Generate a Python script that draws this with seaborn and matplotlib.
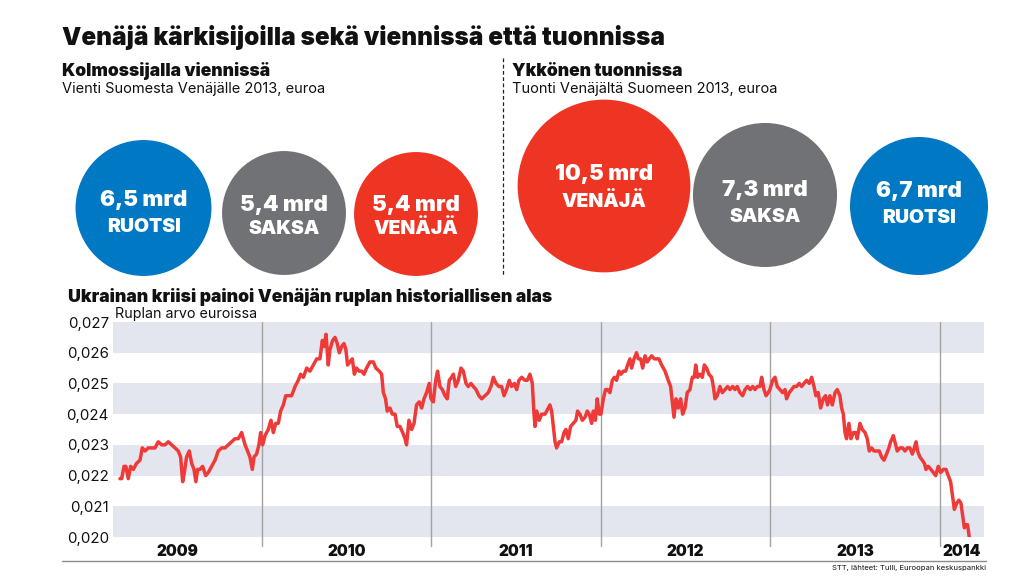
import numpy as np
import pandas as pd
import matplotlib
matplotlib.use("Agg")
import matplotlib.pyplot as plt
from matplotlib.patches import Circle
import seaborn as sns

# ── Data ────────────────────────────────────────────────────────────────────
export_values = [6.5, 5.4, 5.4]                 # mrd euroa, vienti Venäjälle 2013
export_labels = ["RUOTSI", "SAKSA", "VENÄJÄ"]
import_values = [10.5, 7.3, 6.7]                # mrd euroa, tuonti 2013
import_labels = ["VENÄJÄ", "SAKSA", "RUOTSI"]

year_labels = [2009, 2010, 2011, 2012, 2013, 2014]
y_ticks = [0.020, 0.021, 0.022, 0.023, 0.024, 0.025, 0.026, 0.027]

# ruplan arvo euroissa (luettu kuvasta), aika desimaalivuosina
rate_time = [
    2009.162, 2009.172, 2009.186, 2009.197, 2009.211, 2009.225, 2009.241, 2009.260, 2009.280, 2009.294,
    2009.310, 2009.329, 2009.349, 2009.369, 2009.388, 2009.408, 2009.428, 2009.447, 2009.467, 2009.487,
    2009.506, 2009.520, 2009.532, 2009.542, 2009.555, 2009.571, 2009.585, 2009.599, 2009.610, 2009.620,
    2009.634, 2009.650, 2009.668, 2009.683, 2009.703, 2009.723, 2009.742, 2009.762, 2009.782, 2009.801,
    2009.821, 2009.841, 2009.860, 2009.880, 2009.900, 2009.915, 2009.929, 2009.943, 2009.953, 2009.968,
    2009.982, 2009.992, 2010.004, 2010.018, 2010.037, 2010.053, 2010.067, 2010.081, 2010.096, 2010.110,
    2010.126, 2010.140, 2010.155, 2010.175, 2010.195, 2010.214, 2010.228, 2010.244, 2010.264, 2010.283,
    2010.303, 2010.323, 2010.342, 2010.356, 2010.366, 2010.378, 2010.391,
    2010.401, 2010.417, 2010.431, 2010.444, 2010.456, 2010.470, 2010.484, 2010.495, 2010.505, 2010.519,
    2010.533, 2010.545, 2010.558, 2010.574, 2010.588, 2010.602, 2010.617, 2010.637, 2010.657, 2010.672,
    2010.692, 2010.706, 2010.716, 2010.729, 2010.739, 2010.755, 2010.769, 2010.785, 2010.798, 2010.814,
    2010.830, 2010.844, 2010.853, 2010.867, 2010.883, 2010.897, 2010.912, 2010.928, 2010.942, 2010.956,
    2010.971, 2010.987, 2010.997, 2011.011, 2011.025, 2011.036, 2011.050, 2011.064, 2011.080, 2011.093,
    2011.105, 2011.119, 2011.129, 2011.143, 2011.158, 2011.174, 2011.188, 2011.204, 2011.217, 2011.233,
    2011.247, 2011.263, 2011.280, 2011.296, 2011.316, 2011.335, 2011.351, 2011.365, 2011.381, 2011.398,
    2011.414, 2011.428, 2011.443, 2011.459, 2011.473, 2011.489, 2011.503, 2011.516, 2011.532, 2011.552,
    2011.565, 2011.581, 2011.595, 2011.605, 2011.611, 2011.621, 2011.636, 2011.650, 2011.670, 2011.689,
    2011.699, 2011.709, 2011.719, 2011.729, 2011.738, 2011.754, 2011.768, 2011.782, 2011.793, 2011.807,
    2011.821, 2011.837, 2011.852, 2011.862, 2011.876, 2011.890, 2011.906, 2011.919, 2011.931, 2011.945,
    2011.955, 2011.967, 2011.978, 2011.990, 2012.000, 2012.014, 2012.027, 2012.039, 2012.053, 2012.067,
    2012.079, 2012.092, 2012.106, 2012.118, 2012.132, 2012.146, 2012.157, 2012.171, 2012.181, 2012.195,
    2012.210, 2012.220, 2012.234, 2012.246, 2012.260, 2012.273, 2012.285, 2012.299, 2012.315, 2012.328,
    2012.342, 2012.358, 2012.378, 2012.397, 2012.411, 2012.421, 2012.431, 2012.443, 2012.456, 2012.470,
    2012.482, 2012.496, 2012.509, 2012.525, 2012.539, 2012.551, 2012.559, 2012.570, 2012.584, 2012.598,
    2012.610, 2012.623, 2012.637, 2012.653, 2012.663, 2012.673, 2012.686, 2012.702, 2012.716, 2012.732,
    2012.747, 2012.761, 2012.777, 2012.791, 2012.804, 2012.820, 2012.836, 2012.850, 2012.865, 2012.881,
    2012.895, 2012.909, 2012.923, 2012.938, 2012.948, 2012.962, 2012.974, 2012.987,
    2012.997, 2013.013, 2013.027, 2013.040, 2013.056, 2013.072, 2013.086, 2013.095, 2013.111, 2013.125,
    2013.139, 2013.154, 2013.170, 2013.184, 2013.198, 2013.213, 2013.229, 2013.243, 2013.257, 2013.268,
    2013.282, 2013.296, 2013.312, 2013.325, 2013.337, 2013.351, 2013.365, 2013.381, 2013.394, 2013.410,
    2013.420, 2013.430, 2013.440, 2013.449, 2013.463, 2013.475, 2013.489, 2013.503, 2013.512, 2013.528,
    2013.542, 2013.558, 2013.571, 2013.583, 2013.597, 2013.611, 2013.626, 2013.642, 2013.656, 2013.670,
    2013.685, 2013.699, 2013.709, 2013.725, 2013.739, 2013.748, 2013.764, 2013.780, 2013.794, 2013.807,
    2013.823, 2013.837, 2013.849, 2013.859, 2013.868, 2013.882, 2013.896, 2013.908, 2013.918, 2013.931,
    2013.947, 2013.961, 2013.975, 2013.990, 2014.004, 2014.020, 2014.036, 2014.049, 2014.063, 2014.073,
    2014.085, 2014.099, 2014.112, 2014.124, 2014.134, 2014.144, 2014.154, 2014.163, 2014.173,
]
rate_value = [
    0.0219, 0.0219, 0.0223, 0.0223, 0.0219, 0.0223, 0.0222, 0.0224, 0.0225, 0.0229,
    0.0228, 0.0229, 0.0229, 0.0229, 0.0231, 0.0230, 0.0230, 0.0231, 0.0230, 0.0229,
    0.0228, 0.0226, 0.0218, 0.0221, 0.0226, 0.0228, 0.0224, 0.0222, 0.0218, 0.0222,
    0.0222, 0.0223, 0.0220, 0.0221, 0.0223, 0.0225, 0.0228, 0.0229, 0.0229, 0.0230,
    0.0231, 0.0232, 0.0232, 0.0234, 0.0230, 0.0228, 0.0226, 0.0222, 0.0226, 0.0227,
    0.0230, 0.0234, 0.0230, 0.0233, 0.0235, 0.0238, 0.0234, 0.0237, 0.0237, 0.0241,
    0.0243, 0.0246, 0.0246, 0.0246, 0.0249, 0.0251, 0.0253, 0.0252, 0.0255, 0.0254,
    0.0256, 0.0258, 0.0258, 0.0264, 0.0262, 0.0266, 0.0256,
    0.0261, 0.0264, 0.0265, 0.0263, 0.0260, 0.0262, 0.0263, 0.0261, 0.0256, 0.0257,
    0.0258, 0.0253, 0.0255, 0.0254, 0.0254, 0.0253, 0.0255, 0.0257, 0.0257, 0.0255,
    0.0254, 0.0253, 0.0247, 0.0245, 0.0241, 0.0242, 0.0240, 0.0240, 0.0236, 0.0236,
    0.0234, 0.0232, 0.0230, 0.0238, 0.0235, 0.0237, 0.0243, 0.0244, 0.0242, 0.0245,
    0.0247, 0.0250, 0.0245, 0.0244, 0.0251, 0.0254, 0.0249, 0.0248, 0.0246, 0.0245,
    0.0251, 0.0252, 0.0253, 0.0249, 0.0251, 0.0255, 0.0254, 0.0250, 0.0249, 0.0250,
    0.0249, 0.0248, 0.0246, 0.0245, 0.0246, 0.0247, 0.0249, 0.0252, 0.0250, 0.0249,
    0.0249, 0.0246, 0.0248, 0.0251, 0.0249, 0.0250, 0.0248, 0.0251, 0.0252, 0.0251,
    0.0251, 0.0253, 0.0250, 0.0240, 0.0236, 0.0241, 0.0238, 0.0240, 0.0240, 0.0242,
    0.0243, 0.0241, 0.0236, 0.0231, 0.0229, 0.0231, 0.0231, 0.0234, 0.0235, 0.0232,
    0.0236, 0.0237, 0.0238, 0.0241, 0.0240, 0.0238, 0.0239, 0.0241, 0.0240, 0.0237,
    0.0241, 0.0238, 0.0245, 0.0240, 0.0240, 0.0245, 0.0248, 0.0248, 0.0247, 0.0251,
    0.0252, 0.0251, 0.0254, 0.0253, 0.0254, 0.0254, 0.0256, 0.0258, 0.0255, 0.0258,
    0.0260, 0.0258, 0.0258, 0.0255, 0.0259, 0.0257, 0.0258, 0.0259, 0.0258, 0.0258,
    0.0258, 0.0256, 0.0254, 0.0251, 0.0249, 0.0244, 0.0239, 0.0245, 0.0242, 0.0245,
    0.0240, 0.0242, 0.0247, 0.0248, 0.0252, 0.0252, 0.0256, 0.0252, 0.0253, 0.0252,
    0.0256, 0.0255, 0.0253, 0.0252, 0.0249, 0.0245, 0.0246, 0.0249, 0.0247, 0.0248,
    0.0249, 0.0248, 0.0249, 0.0248, 0.0249, 0.0247, 0.0246, 0.0248, 0.0249, 0.0248,
    0.0249, 0.0248, 0.0249, 0.0249, 0.0252, 0.0248, 0.0246, 0.0247,
    0.0248, 0.0251, 0.0252, 0.0249, 0.0248, 0.0247, 0.0248, 0.0245, 0.0247, 0.0248,
    0.0249, 0.0249, 0.0250, 0.0249, 0.0250, 0.0251, 0.0250, 0.0252, 0.0249, 0.0246,
    0.0247, 0.0242, 0.0245, 0.0246, 0.0243, 0.0246, 0.0243, 0.0247, 0.0248, 0.0246,
    0.0242, 0.0240, 0.0234, 0.0232, 0.0237, 0.0232, 0.0234, 0.0234, 0.0232, 0.0237,
    0.0235, 0.0234, 0.0232, 0.0228, 0.0229, 0.0228, 0.0228, 0.0228, 0.0226, 0.0225,
    0.0227, 0.0229, 0.0231, 0.0233, 0.0230, 0.0228, 0.0229, 0.0229, 0.0228, 0.0229,
    0.0229, 0.0227, 0.0229, 0.0231, 0.0228, 0.0226, 0.0225, 0.0224, 0.0222, 0.0223,
    0.0222, 0.0221, 0.0220, 0.0223, 0.0221, 0.0222, 0.0222, 0.0220, 0.0218, 0.0214,
    0.0209, 0.0211, 0.0212, 0.0211, 0.0207, 0.0203, 0.0204, 0.0204, 0.0200,
]

# ── Style ───────────────────────────────────────────────────────────────────
COLOURS = {"RUOTSI": "#0078C4", "SAKSA": "#717275", "VENÄJÄ": "#EE3524"}
LINE_RED = "#EE3A38"
BAND = "#E3E6EE"
INK = "#111111"

sns.set_theme(style="white")
plt.rcParams["font.family"] = ["Inter", "Lato", "DejaVu Sans"]

fig = plt.figure(figsize=(10.24, 5.76), dpi=100)
fig.patch.set_facecolor("white")

# overlay in pixel coordinates for headings and bubbles
ov = fig.add_axes([0, 0, 1, 1])
ov.set_xlim(0, 1024)
ov.set_ylim(576, 0)
ov.axis("off")

ov.text(62, 37, "Venäjä kärkisijoilla sekä viennissä että tuonnissa",
        fontsize=17.5, fontweight="black", color=INK, va="center")
ov.text(62, 71, "Kolmossijalla viennissä", fontsize=12.6, fontweight="black",
        color=INK, va="center")
ov.text(62, 89, "Vienti Suomesta Venäjälle 2013, euroa", fontsize=10.5,
        color=INK, va="center")
ov.text(512, 71, "Ykkönen tuonnissa", fontsize=12.6, fontweight="black",
        color=INK, va="center")
ov.text(512, 89, "Tuonti Venäjältä Suomeen 2013, euroa", fontsize=10.5,
        color=INK, va="center")
ov.plot([503, 503], [58, 276], color="#222222", lw=0.9, ls=(0, (3, 2)))

# bubbles: area proportional to value
R_SCALE = 69 / np.sqrt(6.7)
bubble_groups = [
    (export_values, export_labels, [143.5, 284, 416], [208, 213, 214],
     [200, 205, 205], [227, 229, 229]),
    (import_values, import_labels, [604, 765, 919], [186, 195, 206],
     [174, 190, 191], [202, 217, 218]),
]
for values, labels, cx, cy, ty_val, ty_lab in bubble_groups:
    for v, lab, x, y, tv, tl in zip(values, labels, cx, cy, ty_val, ty_lab):
        ov.add_patch(Circle((x, y), R_SCALE * np.sqrt(v), color=COLOURS[lab], lw=0))
        ov.text(x, tv, f"{v:.1f} mrd".replace(".", ","), color="white",
                fontsize=16, fontweight="black", ha="center", va="center")
        ov.text(x, tl, lab, color="white", fontsize=14, fontweight="black",
                ha="center", va="center")

ov.text(68, 297, "Ukrainan kriisi painoi Venäjän ruplan historiallisen alas",
        fontsize=12.7, fontweight="black", color=INK, va="center")
ov.text(115, 314, "Ruplan arvo euroissa", fontsize=10.3, color=INK, va="center")
ov.plot([62, 986], [561, 561], color="#8A8A8A", lw=1)
ov.text(986, 568, "STT, lähteet: Tulli, Euroopan keskuspankki", fontsize=5.5,
        color=INK, ha="right", va="center")

# ── Ruble line chart ────────────────────────────────────────────────────────
ax = fig.add_axes([113 / 1024, 1 - 537 / 576, 871 / 1024, 215 / 576])
ax.set_facecolor("white")
x_min, x_max = 2009.121, 2014.26
ax.set_xlim(x_min, x_max)
ax.set_ylim(y_ticks[0], y_ticks[-1])

for lo, hi in zip(y_ticks[0::2], y_ticks[1::2]):
    ax.axhspan(lo, hi, color=BAND, lw=0, zorder=0)
for yr in year_labels[1:]:
    ax.axvline(yr, ymin=-0.04, ymax=1, color="#A3A3A3", lw=1, zorder=1,
               clip_on=False)

df = pd.DataFrame({"aika": rate_time, "arvo": rate_value})
sns.lineplot(data=df, x="aika", y="arvo", ax=ax, color=LINE_RED, lw=2.5,
             zorder=3)

ax.set_yticks(y_ticks)
ax.set_yticklabels([f"{t:.3f}".replace(".", ",") for t in y_ticks],
                   fontsize=10.8, color=INK)
tick_pos = [min(y + 0.5, (y + x_max) / 2) for y in year_labels]
ax.set_xticks(tick_pos)
ax.set_xticklabels([str(y) for y in year_labels], fontsize=11,
                   fontweight="black", color=INK)
ax.tick_params(axis="both", length=0)
ax.tick_params(axis="y", pad=3)
ax.tick_params(axis="x", pad=5)
ax.set_xlabel("")
ax.set_ylabel("")
for s in ax.spines.values():
    s.set_visible(False)

fig.savefig("out.png", dpi=100, facecolor="white")
